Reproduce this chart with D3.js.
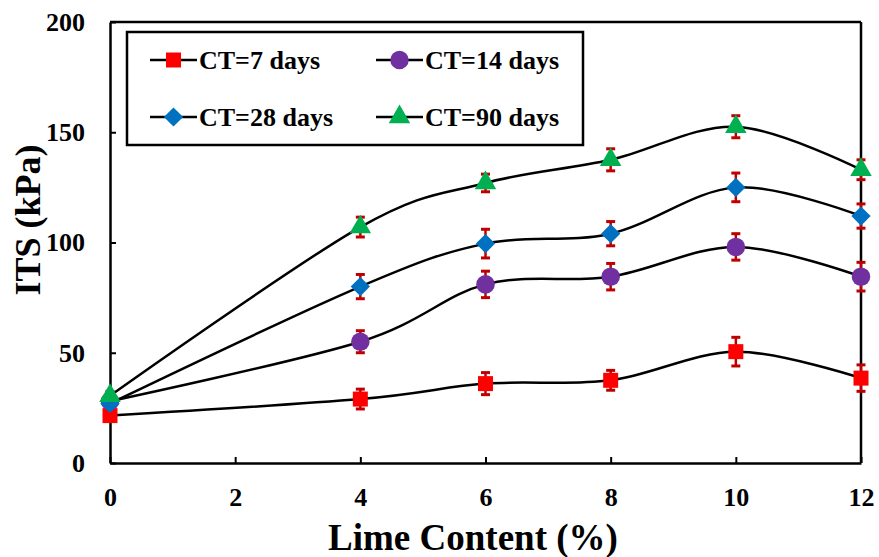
<!DOCTYPE html>
<html>
<head>
<meta charset="utf-8">
<script src="https://cdn.jsdelivr.net/npm/d3@7"></script>
<style>
  body { margin: 0; background: #fff; }
  svg text { font-family: "Liberation Serif", "Times New Roman", Times, "DejaVu Serif", serif !important; font-weight: bold; fill: #000; }
</style>
</head>
<body>
<div id="chart"></div>
<script>
// data
const limeContent = [0, 4, 6, 8, 10, 12];
const seriesNames = ["CT=7 days", "CT=14 days", "CT=28 days", "CT=90 days"];
const ct7 = [21.5, 29, 36, 37.5, 50.5, 38.5];
const ct14 = [28, 55, 81, 84.5, 98, 84.5];
const ct28 = [27, 80, 99.5, 104, 125, 112];
const ct90 = [30.5, 107, 127, 137.5, 152.5, 133];
const err7 = [2, 4.5, 5, 4.5, 6.5, 6];
const err14 = [2, 5, 6, 6, 6, 6.5];
const err28 = [2, 5.5, 6.5, 5.5, 6.5, 5.5];
const err90 = [2, 4.5, 4, 5, 5, 4.5];
const xTicks = [0, 2, 4, 6, 8, 10, 12];
const yTicks = [0, 50, 100, 150, 200];

const W = 879, H = 557;
const margin = { top: 22, right: 18, bottom: 94, left: 110 };
const width = W - margin.left - margin.right;
const height = H - margin.top - margin.bottom;

// diamond = square turned 45 degrees, like Excel's marker
const diamond = {
  draw(ctx, size) {
    const r = Math.sqrt(size) / 2 * Math.SQRT2;
    ctx.moveTo(0, -r); ctx.lineTo(r, 0); ctx.lineTo(0, r); ctx.lineTo(-r, 0); ctx.closePath();
  }
};

const series = [
  { name: seriesNames[0], values: ct7, err: err7, color: "#ff0000", shape: d3.symbolSquare, size: 225 },
  { name: seriesNames[1], values: ct14, err: err14, color: "#7030a0", shape: d3.symbolCircle, size: 270 },
  { name: seriesNames[2], values: ct28, err: err28, color: "#0070c0", shape: diamond, size: 185 },
  { name: seriesNames[3], values: ct90, err: err90, color: "#00b050", shape: d3.symbolTriangle, size: 200 }
];

const svg = d3.select("#chart").append("svg")
  .attr("width", W).attr("height", H);
const g = svg.append("g").attr("transform", `translate(${margin.left},${margin.top})`);

const x = d3.scaleLinear().domain([0, 12]).range([0, width]);
const y = d3.scaleLinear().domain([0, 200]).range([height, 0]);

// axes (ticks point inward)
const xAxis = g.append("g").attr("transform", `translate(0,${height})`)
  .call(d3.axisBottom(x).tickValues(xTicks).tickSizeInner(-6).tickSizeOuter(0).tickPadding(43));
const yAxis = g.append("g")
  .call(d3.axisLeft(y).tickValues(yTicks).tickSizeInner(-6).tickSizeOuter(0).tickPadding(25));
[xAxis, yAxis].forEach(a => {
  a.attr("font-family", null);
  a.select(".domain").attr("stroke", "#000").attr("stroke-width", 2.5);
  a.selectAll(".tick line").attr("stroke", "#000").attr("stroke-width", 2);
  a.selectAll(".tick text").style("font-size", "26px").attr("fill", "#000");
});
xAxis.selectAll(".tick text").attr("dy", "0");
// frame top and right
g.append("line").attr("x1", 0).attr("x2", width).attr("y1", 0).attr("y2", 0)
  .attr("stroke", "#000").attr("stroke-width", 2.5);
g.append("line").attr("x1", width).attr("x2", width).attr("y1", 0).attr("y2", height)
  .attr("stroke", "#000").attr("stroke-width", 2.5);

// axis titles
svg.append("text")
  .attr("x", 473).attr("y", 550)
  .attr("text-anchor", "middle")
  .style("font-size", "37px")
  .text("Lime Content (%)");
svg.append("text")
  .attr("transform", "translate(40,220) rotate(-90)")
  .attr("text-anchor", "middle")
  .style("font-size", "36px")
  .text("ITS (kPa)");

// smoothed lines
const line = d3.line()
  .x((d, i) => x(limeContent[i]))
  .y(d => y(d))
  .curve(d3.curveCardinal.tension(0));

series.forEach(s => {
  g.append("path")
    .attr("d", line(s.values))
    .attr("fill", "none")
    .attr("stroke", "#000")
    .attr("stroke-width", 2.5);
});

// error bars
series.forEach(s => {
  const eb = g.append("g");
  s.values.forEach((v, i) => {
    const cx = x(limeContent[i]);
    eb.append("line").attr("x1", cx).attr("x2", cx)
      .attr("y1", y(v - s.err[i])).attr("y2", y(v + s.err[i]))
      .attr("stroke", "#c00000").attr("stroke-width", 2.5);
    [v - s.err[i], v + s.err[i]].forEach(e => {
      eb.append("line").attr("x1", cx - 4.5).attr("x2", cx + 4.5)
        .attr("y1", y(e)).attr("y2", y(e))
        .attr("stroke", "#c00000").attr("stroke-width", 3);
    });
  });
});

// markers
series.forEach(s => {
  g.append("g").selectAll("path")
    .data(s.values)
    .join("path")
    .attr("transform", (d, i) => `translate(${x(limeContent[i])},${y(d)})`)
    .attr("d", d3.symbol().type(s.shape).size(s.size))
    .attr("fill", s.color);
});

// legend
const legend = svg.append("g");
legend.append("rect")
  .attr("x", 127).attr("y", 32).attr("width", 456).attr("height", 113)
  .attr("fill", "#fff").attr("stroke", "#000").attr("stroke-width", 2.5);
const legendPos = [[150, 60], [376, 60], [150, 117], [376, 117]];
series.forEach((s, i) => {
  const [lx, ly] = legendPos[i];
  const item = legend.append("g").attr("transform", `translate(${lx},${ly})`);
  item.append("line").attr("x1", 0).attr("x2", 47).attr("y1", 0).attr("y2", 0)
    .attr("stroke", "#000").attr("stroke-width", 2.5);
  item.append("path")
    .attr("transform", "translate(23.5,0)")
    .attr("d", d3.symbol().type(s.shape).size(s.size))
    .attr("fill", s.color);
  item.append("text")
    .attr("x", 49).attr("y", 8.5)
    .style("font-size", "26px")
    .text(s.name);
});
</script>
</body>
</html>
